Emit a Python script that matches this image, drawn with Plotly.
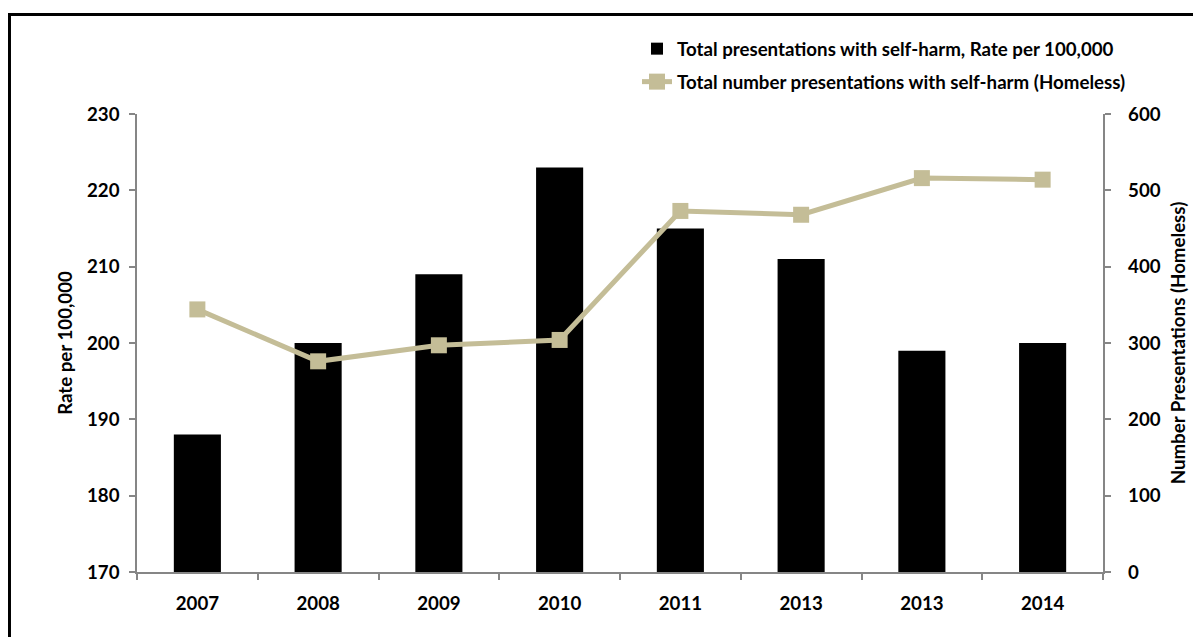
import plotly.graph_objects as go

years = ["2007", "2008", "2009", "2010", "2011", "2013", "2013", "2014"]
rate_per_100k = [188, 200, 209, 223, 215, 211, 199, 200]
homeless_presentations = [344, 276, 297, 304, 473, 468, 516, 514]

x_pos = list(range(len(years)))
boundaries = [i - 0.5 for i in range(len(years) + 1)]

FONT = "Lato"
AXIS_GREY = "#868686"
TAN = "#C4BD97"
FS = 18.7

fig = go.Figure()
fig.add_trace(go.Bar(
    x=x_pos, y=rate_per_100k,
    name="Total presentations with self-harm, Rate per 100,000",
    marker=dict(color="black", line=dict(width=0)),
    width=0.39,
    yaxis="y",
    legend="legend",
))
fig.add_trace(go.Scatter(
    x=x_pos, y=homeless_presentations,
    name="Total number presentations with self-harm (Homeless)",
    mode="lines+markers",
    line=dict(color=TAN, width=5),
    marker=dict(symbol="square", size=16, color=TAN),
    yaxis="y2",
    legend="legend2",
))

tick_font = dict(family=FONT, size=FS, color="black", weight="bold")
LEG_X = 0.5176

fig.update_layout(
    width=1193, height=629,
    margin=dict(l=129, r=98, t=106, b=65),
    paper_bgcolor="white", plot_bgcolor="white",
    font=tick_font,
    showlegend=True,
    legend=dict(
        x=LEG_X, y=1.1834, xanchor="left", yanchor="top",
        font=tick_font, bgcolor="rgba(0,0,0,0)",
    ),
    legend2=dict(
        x=LEG_X, y=1.1114, xanchor="left", yanchor="top",
        font=tick_font, bgcolor="rgba(0,0,0,0)",
    ),
    xaxis=dict(
        range=[-0.5, len(years) - 0.5],
        tickmode="array", tickvals=x_pos, ticktext=years,
        ticks="", showgrid=False, zeroline=False,
        showline=True, linecolor=AXIS_GREY, linewidth=1.5,
        tickfont=tick_font,
        ticklabelstandoff=14,
        minor=dict(tickmode="array", tickvals=boundaries, ticks="outside",
                   ticklen=6, tickcolor=AXIS_GREY, tickwidth=1.5, showgrid=False),
    ),
    yaxis=dict(
        range=[170, 230], dtick=10, tick0=170,
        ticks="outside", ticklen=6, tickcolor=AXIS_GREY, tickwidth=1.5,
        showgrid=False, zeroline=False,
        showline=True, linecolor=AXIS_GREY, linewidth=1.5,
        tickfont=tick_font,
        ticklabelstandoff=6,
        title=dict(text="Rate per 100,000", font=tick_font, standoff=9),
    ),
    yaxis2=dict(
        range=[0, 600], dtick=100, tick0=0,
        overlaying="y", side="right",
        ticks="outside", ticklen=6, tickcolor=AXIS_GREY, tickwidth=1.5,
        showgrid=False, zeroline=False,
        showline=True, linecolor=AXIS_GREY, linewidth=1.5,
        tickfont=tick_font,
        tickprefix="\u00a0\u00a0\u00a0",
        title=dict(text="Number Presentations (Homeless)", font=tick_font, standoff=12),
    ),
)

# chart-area border (extends past the right and bottom edges of the picture)
fig.add_shape(type="rect", xref="paper", yref="paper",
              x0=-0.132, x1=1.2, y0=-0.3, y1=1.2172,
              line=dict(color="black", width=3), fillcolor="rgba(0,0,0,0)",
              layer="above")

fig.write_html("out.html")
